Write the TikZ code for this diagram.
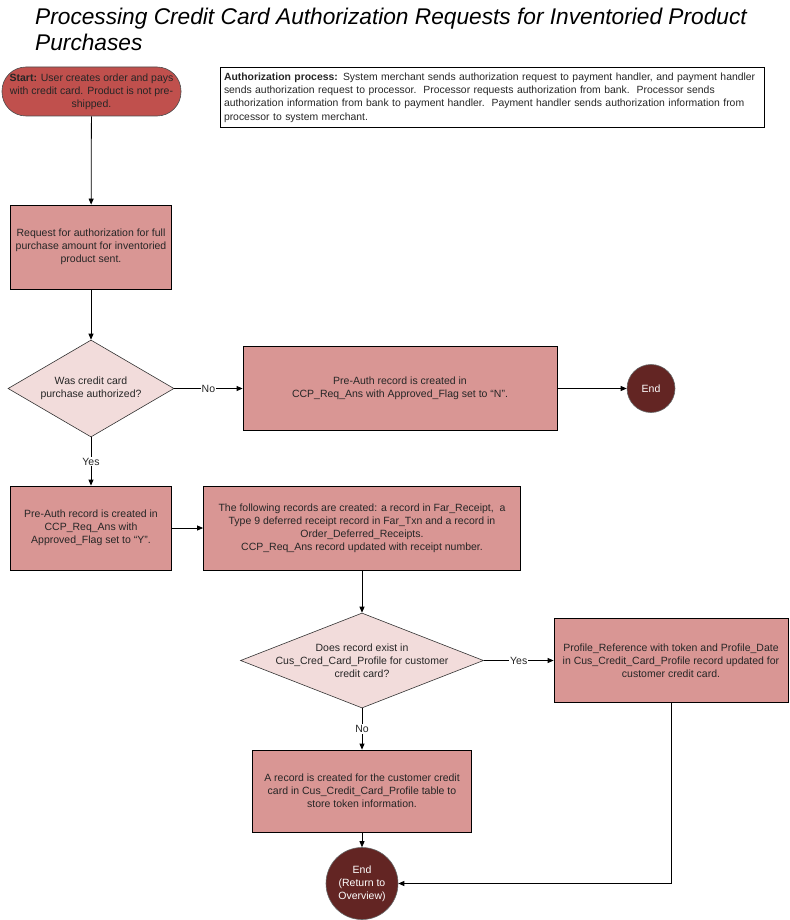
\documentclass[tikz,border=0pt]{standalone}
\usepackage{fontspec}
\setmainfont{Liberation Sans}
\usetikzlibrary{arrows.meta,shapes.geometric}
\definecolor{startred}{HTML}{C0504D}
\definecolor{boxred}{HTML}{D99694}
\definecolor{diapink}{HTML}{F2DCDB}
\definecolor{enddark}{HTML}{632523}
\begin{document}
\begin{tikzpicture}[x=1pt,y=-1pt,
  every node/.style={font=\fontsize{10.5}{13}\selectfont, text=black!85},
  procbox/.style={draw=black, line width=0.8pt, fill=boxred, rectangle, inner sep=0pt, align=center},
  startbox/.style={draw=black!70, line width=0.6pt, fill=startred, rectangle, rounded corners=24pt, inner sep=0pt, align=center},
  decbox/.style={draw=black!80, line width=0.6pt, fill=diapink, shape=diamond, inner sep=0pt},
  dtext/.style={align=center, inner sep=0pt},
  endbox/.style={draw=black!60, line width=0.6pt, fill=enddark, shape=circle, inner sep=0pt, align=center, text=white},
  notebox/.style={draw=black, line width=0.8pt, fill=white, rectangle, inner sep=0pt, align=left},
  arr/.style={draw=black, line width=0.8pt, -{Triangle[length=6pt,width=5pt]}},
  lbl/.style={fill=white, inner sep=1pt}
]
\useasboundingbox (0,0) rectangle (789,920);

\node[anchor=base west, align=left, inner sep=0pt,
      font=\fontsize{22.7}{26}\selectfont\itshape, text=black] (title) at (35,51)
  {Processing Credit Card Authorization Requests for Inventoried Product\\Purchases};

\node[startbox, minimum width=179pt, minimum height=49pt] (start) at (91.5,91.5)
  {\textbf{Start:} User creates order and pays\\with credit card. Product is not pre-\\shipped.};

\node[notebox, minimum width=544pt, minimum height=60pt, text width=536pt,
      font=\fontsize{10.4}{13.3}\selectfont] (auth) at (492,97.5)
  {\textbf{Authorization process:} System merchant sends authorization request to payment handler, and payment handler\\sends authorization request to processor.\ \ Processor requests authorization from bank.\ \ Processor sends\\authorization information from bank to payment handler.\ \ Payment handler sends authorization information from\\processor to system merchant.};

\node[procbox, minimum width=161pt, minimum height=84pt] (req) at (91,247)
  {Request for authorization for full\\purchase amount for inventoried\\product sent.};

\node[decbox, minimum width=166pt, minimum height=97pt] (d1) at (91,388.5) {};
\node[dtext] (d1t) at (d1) {Was credit card\\purchase authorized?};

\node[procbox, minimum width=314pt, minimum height=84pt] (boxN) at (400,388.5)
  {Pre-Auth record is created in\\CCP\_Req\_Ans with Approved\_Flag set to “N”.};

\node[endbox, minimum size=48pt] (end1) at (651,388.5) {End};

\node[procbox, minimum width=161pt, minimum height=84pt] (boxY) at (91,528)
  {Pre-Auth record is created in\\CCP\_Req\_Ans with\\Approved\_Flag set to “Y”.};

\node[procbox, minimum width=317pt, minimum height=84pt] (boxF) at (362,528)
  {The following records are created: a record in Far\_Receipt,\ \ a\\Type 9 deferred receipt record in Far\_Txn and a record in\\Order\_Deferred\_Receipts.\\CCP\_Req\_Ans record updated with receipt number.};

\node[decbox, minimum width=243pt, minimum height=95pt] (d2) at (362,660.5) {};
\node[dtext] (d2t) at (d2) {Does record exist in\\Cus\_Cred\_Card\_Profile for customer\\credit card?};

\node[procbox, minimum width=234pt, minimum height=84pt] (boxP) at (671,660.5)
  {Profile\_Reference with token and Profile\_Date\\in Cus\_Credit\_Card\_Profile record updated for\\customer credit card.};

\node[procbox, minimum width=219pt, minimum height=82pt] (boxA) at (362,791)
  {A record is created for the customer credit\\card in Cus\_Credit\_Card\_Profile table to\\store token information.};

\node[endbox, minimum size=72pt] (end2) at (362,883.5) {End\\(Return to\\Overview)};

\draw[arr] (start) -- (req);
\draw[arr] (req) -- (d1);
\draw[arr] (d1) -- node[lbl] {No} (boxN);
\draw[arr] (boxN) -- (end1);
\draw[arr] (d1) -- node[lbl] {Yes} (boxY);
\draw[arr] (boxY) -- (boxF);
\draw[arr] (boxF) -- (d2);
\draw[arr] (d2) -- node[lbl] {Yes} (boxP);
\draw[arr] (d2) -- node[lbl] {No} (boxA);
\draw[arr] (boxA) -- (end2);
\draw[arr] (boxP) |- (end2);
\end{tikzpicture}
\end{document}
